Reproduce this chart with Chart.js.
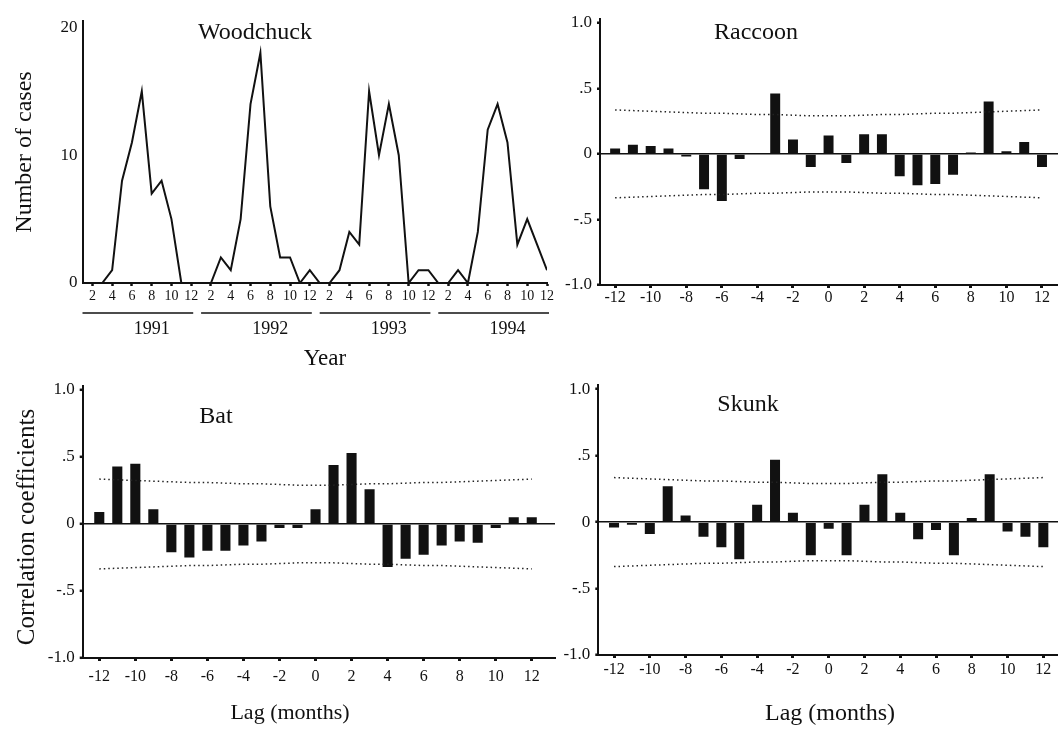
<!DOCTYPE html>
<html>
<head>
<meta charset="utf-8">
<title>Rabies cases and cross-correlations</title>
<script src="https://cdn.jsdelivr.net/npm/chart.js@4.4.0/dist/chart.umd.min.js"></script>
<style>
    body { margin: 0; background: #fff; }
    #page { position: relative; width: 1058px; height: 732px; overflow: hidden; font-family: "Liberation Serif", serif; color: #111; }
    canvas { position: absolute; }
    .lbl { position: absolute; white-space: nowrap; line-height: 1; transform: translate(-50%, -50%); }
    .rot { transform: translate(-50%, -50%) rotate(-90deg); }
</style>
</head>
<body>
<div id="page">
    <canvas id="woodchuck" width="570" height="370" style="left:0px;top:0px"></canvas>
    <canvas id="raccoon" width="518" height="340" style="left:540px;top:0px"></canvas>
    <canvas id="bat" width="570" height="350" style="left:0px;top:370px"></canvas>
    <canvas id="skunk" width="518" height="350" style="left:540px;top:370px"></canvas>

    <div class="lbl" style="left:255px;top:31px;font-size:24px">Woodchuck</div>
    <div class="lbl" style="left:756px;top:31px;font-size:24px">Raccoon</div>
    <div class="lbl" style="left:216px;top:415px;font-size:24px">Bat</div>
    <div class="lbl" style="left:748px;top:403px;font-size:24px">Skunk</div>
    <div class="lbl rot" style="left:23px;top:152px;font-size:24px">Number of cases</div>
    <div class="lbl rot" style="left:25px;top:527px;font-size:25px">Correlation coefficients</div>
    <div class="lbl" style="left:325px;top:357px;font-size:23px">Year</div>
    <div class="lbl" style="left:290px;top:712px;font-size:22px">Lag (months)</div>
    <div class="lbl" style="left:830px;top:712px;font-size:24px">Lag (months)</div>
</div>
<script>
const years = ["1991", "1992", "1993", "1994"];
const monthTicks = [2, 4, 6, 8, 10, 12];
const caseTicks = [0, 10, 20];

// monthly woodchuck cases, Jan 1991 .. Dec 1994
const woodchuckCases = [
    0, 0, 0, 1, 8, 11, 15, 7, 8, 5, 0, 0,
    0, 0, 2, 1, 5, 14, 18, 6, 2, 2, 0, 1,
    0, 0, 1, 4, 3, 15, 10, 14, 10, 0, 1, 1,
    0, 0, 1, 0, 4, 12, 14, 11, 3, 5, 3, 1,
];

const lags = [-12, -11, -10, -9, -8, -7, -6, -5, -4, -3, -2, -1, 0, 1, 2, 3, 4, 5, 6, 7, 8, 9, 10, 11, 12];
const lagTicks = [-12, -10, -8, -6, -4, -2, 0, 2, 4, 6, 8, 10, 12];
const corrTicks = [-1, -0.5, 0, 0.5, 1];
const corrTickLabels = ["-1.0", "-.5", "0", ".5", "1.0"];

const raccoonCorr = [0.04, 0.07, 0.06, 0.04, -0.02, -0.27, -0.36, -0.04, 0, 0.46, 0.11, -0.10, 0.14, -0.07, 0.15, 0.15, -0.17, -0.24, -0.23, -0.16, 0.01, 0.40, 0.02, 0.09, -0.10];
const batCorr = [0.09, 0.43, 0.45, 0.11, -0.21, -0.25, -0.20, -0.20, -0.16, -0.13, -0.03, -0.03, 0.11, 0.44, 0.53, 0.26, -0.32, -0.26, -0.23, -0.16, -0.13, -0.14, -0.03, 0.05, 0.05];
const skunkCorr = [-0.04, -0.02, -0.09, 0.27, 0.05, -0.11, -0.19, -0.28, 0.13, 0.47, 0.07, -0.25, -0.05, -0.25, 0.13, 0.36, 0.07, -0.13, -0.06, -0.25, 0.03, 0.36, -0.07, -0.11, -0.19];

// dotted confidence limits
const upperBand = [0.335, 0.33, 0.325, 0.32, 0.315, 0.31, 0.31, 0.305, 0.30, 0.30, 0.295, 0.29, 0.29, 0.29, 0.295, 0.30, 0.30, 0.305, 0.31, 0.31, 0.315, 0.32, 0.325, 0.33, 0.335];
const lowerBand = [-0.335, -0.33, -0.325, -0.32, -0.315, -0.31, -0.31, -0.305, -0.30, -0.30, -0.295, -0.29, -0.29, -0.29, -0.295, -0.30, -0.30, -0.305, -0.31, -0.31, -0.315, -0.32, -0.325, -0.33, -0.335];

const ink = "#111";
const serif = "'Liberation Serif', serif";

Chart.defaults.animation = false;
Chart.defaults.color = ink;
Chart.defaults.font.family = serif;

const yearBars = {
    id: "yearBars",
    afterDraw(chart) {
        const x = chart.scales.x;
        const ctx = chart.ctx;
        ctx.save();
        ctx.strokeStyle = ink;
        ctx.lineWidth = 1.5;
        ctx.fillStyle = ink;
        ctx.font = "18px " + serif;
        ctx.textAlign = "center";
        ctx.textBaseline = "middle";
        years.forEach((yr, i) => {
            const x1 = x.getPixelForValue(i * 12 + 1);
            const x2 = x.getPixelForValue(i * 12 + 12) + 2;
            ctx.beginPath();
            ctx.moveTo(x1, 313);
            ctx.lineTo(x2, 313);
            ctx.stroke();
            ctx.fillText(yr, x.getPixelForValue(i * 12 + 8), 329);
        });
        ctx.restore();
    },
};

new Chart(document.getElementById("woodchuck"), {
    type: "line",
    data: {
        datasets: [
            {
                data: woodchuckCases.map((v, i) => ({ x: i + 1, y: v })),
                borderColor: ink,
                borderWidth: 2,
                pointRadius: 0,
                tension: 0,
            },
        ],
    },
    options: {
        responsive: false,
        layout: { padding: { left: 0, top: 21, right: 23, bottom: 0 } },
        plugins: { legend: { display: false }, tooltip: { enabled: false } },
        scales: {
            x: {
                type: "linear",
                min: 1,
                max: 48,
                afterBuildTicks: (scale) => {
                    const ticks = [];
                    years.forEach((yr, i) => monthTicks.forEach((m) => ticks.push({ value: i * 12 + m })));
                    scale.ticks = ticks;
                },
                afterFit: (scale) => { scale.height = 87; },
                border: { color: ink, width: 2 },
                grid: { drawOnChartArea: false, tickLength: 3, tickWidth: 2.5, tickColor: ink },
                ticks: {
                    autoSkip: false,
                    maxRotation: 0,
                    padding: 2,
                    font: { size: 14 },
                    callback: (v) => ((v - 1) % 12) + 1,
                },
            },
            y: {
                min: 0,
                max: 20.5,
                afterBuildTicks: (scale) => { scale.ticks = caseTicks.map((v) => ({ value: v })); },
                afterFit: (scale) => { scale.width = 82.5; },
                border: { color: ink, width: 2 },
                grid: { drawOnChartArea: false, drawTicks: false },
                ticks: { padding: 5, font: { size: 17 } },
            },
        },
    },
    plugins: [yearBars],
});

function corrChart(id, values, box) {
    new Chart(document.getElementById(id), {
        type: "bar",
        data: {
            datasets: [
                {
                    type: "line",
                    data: lags.map((l, i) => ({ x: l, y: upperBand[i] })),
                    borderColor: "#222",
                    borderWidth: 1.5,
                    borderDash: [1.5, 3],
                    pointRadius: 0,
                },
                {
                    type: "line",
                    data: lags.map((l, i) => ({ x: l, y: lowerBand[i] })),
                    borderColor: "#222",
                    borderWidth: 1.5,
                    borderDash: [1.5, 3],
                    pointRadius: 0,
                },
                {
                    data: lags.map((l, i) => ({ x: l, y: values[i] })),
                    backgroundColor: ink,
                    barPercentage: 0.56,
                    categoryPercentage: 1,
                },
            ],
        },
        options: {
            responsive: false,
            layout: { padding: { left: 0, top: box.top, right: box.right, bottom: 0 } },
            plugins: { legend: { display: false }, tooltip: { enabled: false } },
            scales: {
                x: {
                    type: "linear",
                    offset: false,
                    min: box.xMin,
                    max: box.xMax,
                    afterBuildTicks: (scale) => { scale.ticks = lagTicks.map((v) => ({ value: v })); },
                    afterFit: (scale) => { scale.height = box.xHeight; },
                    border: { color: ink, width: 2 },
                    grid: { offset: false, drawOnChartArea: false, tickLength: 3, tickWidth: 3, tickColor: ink },
                    ticks: { autoSkip: false, maxRotation: 0, padding: box.xPad, font: { size: 16 } },
                },
                y: {
                    min: -1,
                    max: 1.03,
                    afterBuildTicks: (scale) => { scale.ticks = corrTicks.map((v) => ({ value: v })); },
                    afterFit: (scale) => { scale.width = box.yWidth; },
                    border: { color: ink, width: 2 },
                    grid: {
                        color: (c) => (c.tick && c.tick.value === 0 ? ink : "rgba(0,0,0,0)"),
                        lineWidth: 1.6,
                        tickLength: 3,
                        tickWidth: 2.5,
                        tickColor: ink,
                    },
                    ticks: {
                        padding: 5,
                        font: { size: 17 },
                        callback: (v) => corrTickLabels[corrTicks.indexOf(v)],
                    },
                },
            },
        },
    });
}

corrChart("raccoon", raccoonCorr, { xMin: -12.85, xMax: 12.9, top: 18.8, right: 0, yWidth: 60, xHeight: 55, xPad: 0 });
corrChart("bat", batCorr, { xMin: -12.92, xMax: 13.29, top: 16, right: 15, yWidth: 82.7, xHeight: 62, xPad: 6 });
corrChart("skunk", skunkCorr, { xMin: -12.88, xMax: 12.82, top: 11, right: 0, yWidth: 58.3, xHeight: 65, xPad: 2 });
</script>
</body>
</html>
